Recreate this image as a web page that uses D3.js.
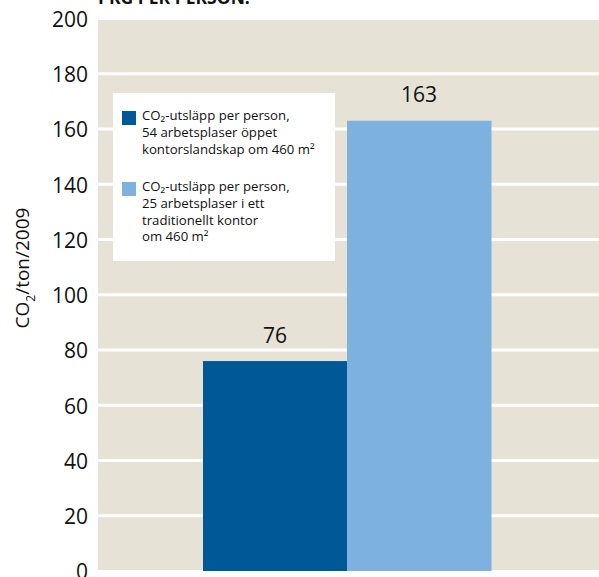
<!DOCTYPE html>
<html>
<head>
<meta charset="utf-8">
<script src="https://cdn.jsdelivr.net/npm/d3@7"></script>
<style>
  body { margin: 0; background: #fff; }
  svg { display: block; font-family: "Open Sans", "Noto Sans", sans-serif; }
</style>
</head>
<body>
<div id="chart"></div>
<script>
// data
const categories = ["open", "traditional"];
const values = [76, 163];
const yTicks = [0, 20, 40, 60, 80, 100, 120, 140, 160, 180, 200];
const legendLines = [
  ["CO₂-utsläpp per person,", "54 arbetsplaser öppet", "kontorslandskap om 460 m²"],
  ["CO₂-utsläpp per person,", "25 arbetsplaser i ett", "traditionellt kontor", "om 460 m²"]
];
const colors = ["#005896", "#7db2df"];

let width = 599, height = 577;

let svg = d3.select('#chart').append('svg')
  .attr('width', width)
  .attr('height', height);

let x = d3.scaleBand()
  .domain(categories)
  .range([203, 491])
  .padding(0);

let y = d3.scaleLinear()
  .domain([0, 200])
  .range([571, 18.5]);

// background panel
svg.append('rect')
  .attr('x', 98).attr('y', 20)
  .attr('width', width - 98).attr('height', 550)
  .attr('fill', '#e6e2d5');

// gridlines
svg.selectAll('.grid')
  .data(yTicks.filter(d => d > 0 && d < 200))
  .enter().append('line')
  .attr('x1', 98).attr('x2', width)
  .attr('y1', d => y(d)).attr('y2', d => y(d))
  .attr('stroke', '#fff')
  .attr('stroke-width', 3);

// tick labels
svg.selectAll('.tick')
  .data(yTicks)
  .enter().append('text')
  .attr('x', 88)
  .attr('y', d => y(d) + 1)
  .attr('dy', '0.35em')
  .attr('text-anchor', 'end')
  .style('font-size', '21px')
  .attr('fill', '#111')
  .text(d => d);

// bars
svg.selectAll('.bar')
  .data(values)
  .enter().append('rect')
  .attr('x', (d, i) => x(categories[i]))
  .attr('width', x.bandwidth() + 0.5)
  .attr('y', d => y(d))
  .attr('height', d => y(0) - y(d))
  .attr('fill', (d, i) => colors[i]);

// value labels
svg.selectAll('.val')
  .data(values)
  .enter().append('text')
  .attr('x', (d, i) => x(categories[i]) + x.bandwidth() / 2)
  .attr('y', d => y(d) - 18.5)
  .attr('text-anchor', 'middle')
  .style('font-size', '21px')
  .attr('fill', '#111')
  .text(d => d);

// y axis title
let yt = svg.append('text')
  .attr('transform', 'translate(29,268) rotate(-90)')
  .attr('text-anchor', 'middle')
  .style('font-size', '19px')
  .attr('fill', '#111');
yt.append('tspan').text('CO');
yt.append('tspan').text('2').style('font-size', '12px').attr('dy', 6);
yt.append('tspan').text('/ton/2009').attr('dy', -6);

// cut-off title
svg.append('text')
  .attr('x', 98).attr('y', 4)
  .style('font-size', '17.5px')
  .style('font-weight', 'bold')
  .attr('fill', '#111')
  .text('PKG PER PERSON.');

// legend
let legend = svg.append('g');
legend.append('rect')
  .attr('x', 113).attr('y', 93)
  .attr('width', 222).attr('height', 168)
  .attr('fill', '#fff');

let legendTop = [120, 191];
legendLines.forEach((lines, i) => {
  legend.append('rect')
    .attr('x', 122).attr('y', legendTop[i] - 9)
    .attr('width', 14).attr('height', 14)
    .attr('fill', colors[i]);
  let t = legend.append('text')
    .attr('x', 142).attr('y', legendTop[i])
    .style('font-size', '13.2px')
    .attr('fill', '#111');
  lines.forEach((l, j) => {
    t.append('tspan').attr('x', 142).attr('dy', j ? 16.8 : 0).text(l);
  });
});
</script>
</body>
</html>
